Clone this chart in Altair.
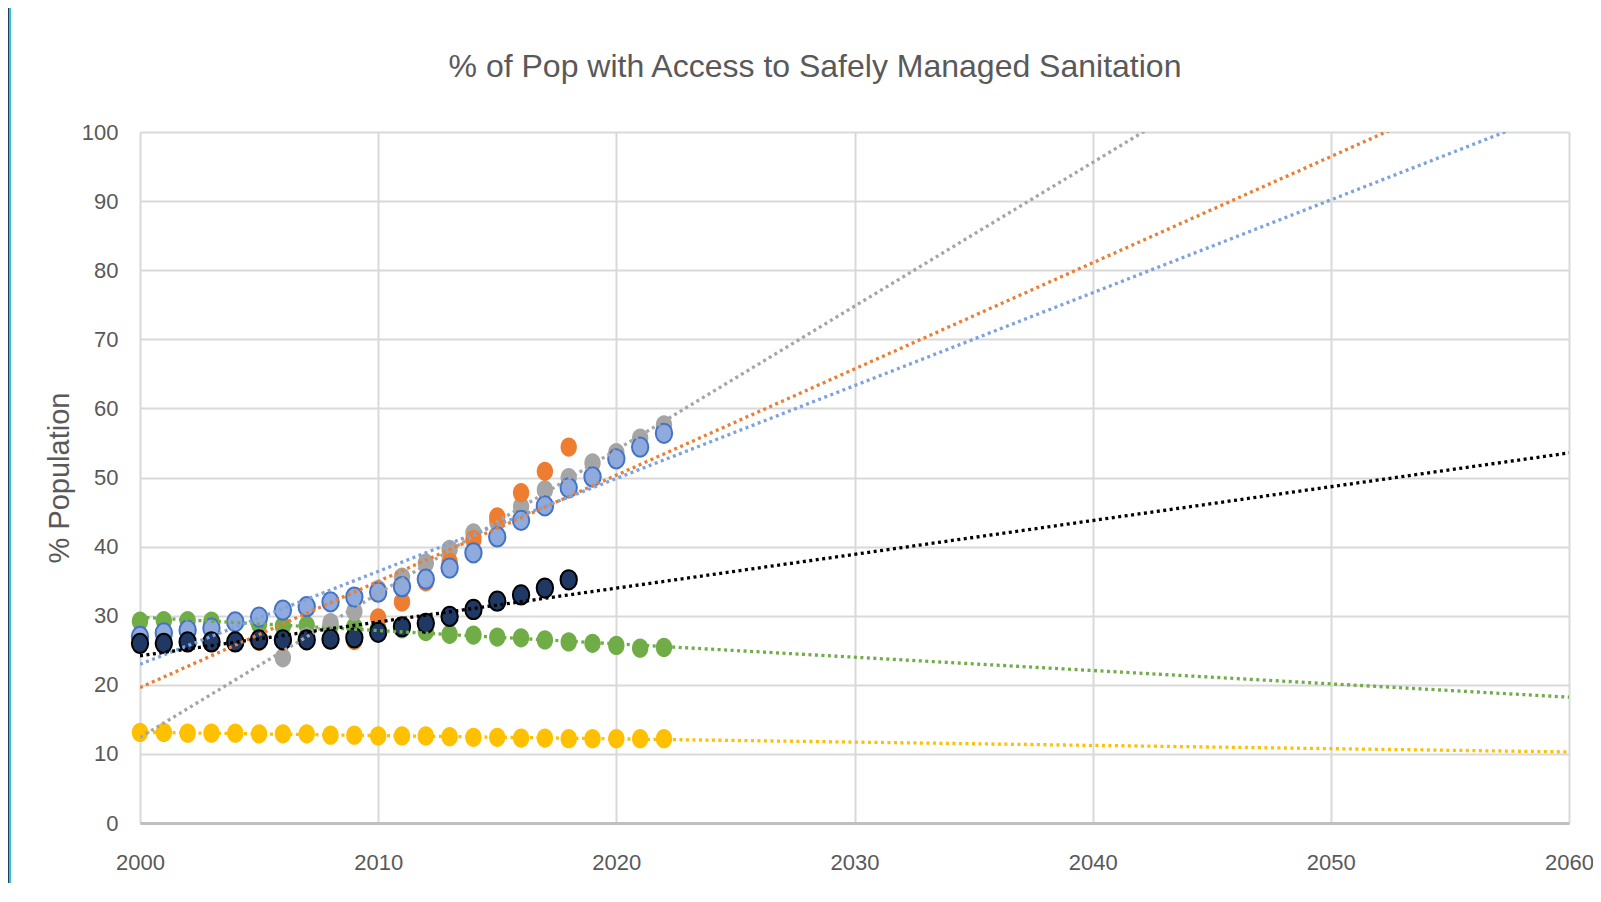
import altair as alt
import pandas as pd

TITLE = "% of Pop with Access to Safely Managed Sanitation"
Y_TITLE = "% Population"

# years
years_full = list(range(2000, 2023))      # 2000-2022
years_short = list(range(2000, 2019))     # 2000-2018
years_gray = list(range(2006, 2023))      # 2006-2022

# series values
green = [29.2, 29.3, 29.3, 29.2, 29.0, 28.8, 28.5, 28.6, 28.5, 28.4, 28.2, 28.1,
         27.7, 27.3, 27.2, 26.9, 26.8, 26.5, 26.2, 26.0, 25.7, 25.3, 25.4]
yellow = [13.1, 13.1, 13.0, 13.0, 13.0, 12.9, 12.9, 12.9, 12.7, 12.7, 12.6, 12.6,
          12.6, 12.5, 12.4, 12.4, 12.3, 12.3, 12.2, 12.2, 12.2, 12.2, 12.2]
gray = [23.9, 27.0, 29.0, 30.6, 33.8, 35.6, 37.6, 39.6, 42.0, 43.6, 45.8, 48.2,
        50.0, 52.1, 53.6, 55.7, 57.6]
orange = [26.0, 26.0, 26.1, 26.1, 26.2, 26.3, 26.3, 26.4, 26.5, 26.4, 29.7, 32.0,
          34.9, 37.8, 41.0, 44.3, 47.8, 50.9, 54.4]
blue = [27.0, 27.5, 27.9, 28.2, 29.1, 29.8, 30.8, 31.3, 32.0, 32.7, 33.4, 34.2,
        35.3, 36.9, 39.1, 41.4, 43.8, 45.9, 48.5, 50.1, 52.7, 54.4, 56.4]
navy = [26.0, 26.0, 26.2, 26.2, 26.2, 26.5, 26.5, 26.5, 26.6, 26.8, 27.6, 28.4,
        28.9, 29.9, 30.9, 32.1, 33.0, 34.0, 35.2]

x_ticks = [2000, 2010, 2020, 2030, 2040, 2050, 2060]
y_ticks = [0, 10, 20, 30, 40, 50, 60, 70, 80, 90, 100]

series = [
    # name, years, values, fill, stroke, strokeWidth, trend colour
    ("Green", years_full, green, "#70AD47", "#70AD47", 0, "#70AD47"),
    ("Yellow", years_full, yellow, "#FFC000", "#FFC000", 0, "#FFC000"),
    ("Gray", years_gray, gray, "#A5A5A5", "#A5A5A5", 0, "#A5A5A5"),
    ("Orange", years_short, orange, "#ED7D31", "#ED7D31", 0, "#ED7D31"),
    ("Blue", years_full, blue, "#8FAADC", "#4472C4", 2, "#7DA2DC"),
    ("Navy", years_short, navy, "#203864", "#000000", 2, "#000000"),
]

LABEL_FONT = "Liberation Sans"
W, H = 1429, 691

x_enc = alt.X(
    "year:Q",
    scale=alt.Scale(domain=[2000, 2060], nice=False, zero=False),
    axis=alt.Axis(values=x_ticks, format="d", title=None, grid=True,
                  gridColor="#D9D9D9", gridWidth=2, domain=True,
                  domainColor="#BFBFBF", domainWidth=3, ticks=False,
                  labelPadding=29, labelFontSize=22, labelFont=LABEL_FONT,
                  labelColor="#595959", labelFlush=False),
)
y_enc = alt.Y(
    "value:Q",
    scale=alt.Scale(domain=[0, 100], nice=False),
    axis=alt.Axis(values=y_ticks, title=Y_TITLE, titleFont="Liberation Sans",
                  titleFontSize=29, titleFontWeight="normal", titleColor="#595959",
                  titleX=-66, titleY=H / 2, grid=True, gridColor="#D9D9D9",
                  gridWidth=2, domain=False, ticks=False, labelPadding=22,
                  labelFontSize=22, labelFont=LABEL_FONT, labelColor="#595959"),
)

ELLIPSE = "M-0.85,0A0.85,1,0,1,1,0.85,0A0.85,1,0,1,1,-0.85,0Z"

point_layers = []
trend_layers = []
for name, yrs, vals, fill, stroke, sw, tcol in series:
    df = pd.DataFrame({"year": yrs, "value": vals, "series": name})
    base = alt.Chart(df)
    point_layers.append(
        base.mark_point(shape=ELLIPSE, filled=True, size=370, fill=fill,
                        stroke=stroke, strokeWidth=sw, opacity=1)
        .encode(x=x_enc, y=y_enc)
    )
    trend_layers.append(
        base.transform_regression("year", "value", extent=[2000, 2060])
        .mark_line(color=tcol, strokeWidth=3.3, strokeDash=[3, 3.5], clip=True)
        .encode(x=x_enc, y=y_enc)
    )

title_layer = alt.Chart(pd.DataFrame({"t": [TITLE]})).mark_text(
    font="Liberation Sans", fontSize=32, color="#595959", align="center",
    baseline="alphabetic").encode(text="t:N", x=alt.value(675), y=alt.value(-55))

frame_df = pd.DataFrame({"k": [0]})
frame_dark = alt.Chart(frame_df).mark_rule(color="#2B3A4E", strokeWidth=1.2).encode(
    x=alt.value(-131.5), y=alt.value(-124), y2=alt.value(H + 60))
frame_cyan = alt.Chart(frame_df).mark_rule(color="#2CC6DC", strokeWidth=2).encode(
    x=alt.value(-130), y=alt.value(-124), y2=alt.value(H + 60))

chart = alt.layer(*point_layers, *trend_layers, title_layer, frame_dark,
                  frame_cyan).properties(
    width=W,
    height=H,
    padding={"left": 132, "top": 124, "right": 24, "bottom": 60},
    autosize=alt.AutoSizeParams(type="none"),
    background="white",
).configure_view(stroke=None)

chart.save("out.html", embed_options={"renderer": "svg", "actions": False})
